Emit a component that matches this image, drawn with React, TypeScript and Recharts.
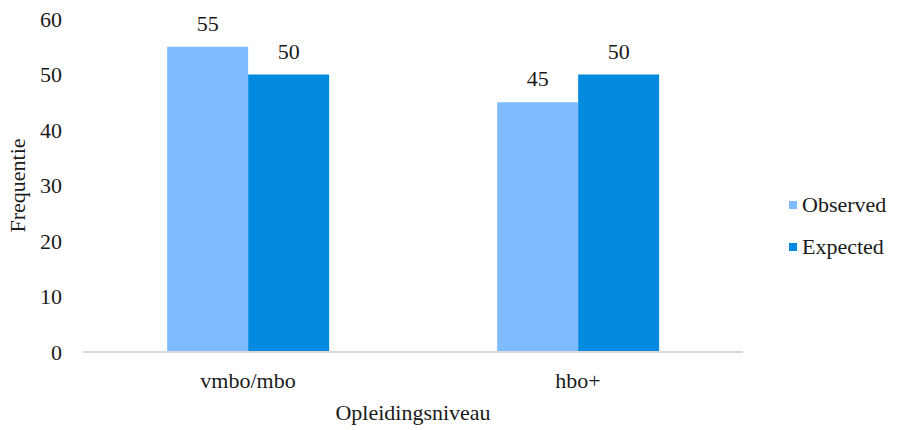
import { BarChart, Bar, XAxis, YAxis, Legend, LabelList } from 'recharts'

const levels = ['vmbo/mbo', 'hbo+']
const observed = [55, 45]
const expected = [50, 50]
const yTicks = [0, 10, 20, 30, 40, 50, 60]

const seriesNames = ['Observed', 'Expected']
const seriesColors = ['#80baff', '#028ae0']

const FONT = 'Liberation Serif, DejaVu Serif, serif'
const SIZE = 22
const INK = '#1a1a1a'

const data = levels.map((level, i) => ({
  level,
  Observed: observed[i],
  Expected: expected[i],
}))

function YTitle(props: any) {
  const vb = props.viewBox || {}
  const cx = 17
  const cy = vb.y + vb.height / 2
  return (
    <text
      x={cx}
      y={cy}
      transform={`rotate(-90, ${cx}, ${cy})`}
      textAnchor="middle"
      dominantBaseline="central"
      style={{ fontFamily: FONT, fontSize: SIZE }}
      fill={INK}
    >
      Frequentie
    </text>
  )
}

function LegendBox() {
  return (
    <div style={{ fontFamily: FONT, fontSize: SIZE, color: INK }}>
      {seriesNames.map((name, i) => (
        <div key={name} style={{ display: 'flex', alignItems: 'center', height: 42 }}>
          <span
            style={{
              display: 'inline-block',
              width: 8,
              height: 8,
              background: seriesColors[i],
              marginRight: 5,
            }}
          />
          {name}
        </div>
      ))}
    </div>
  )
}

const textStyle = { fontFamily: FONT, fontSize: SIZE }

export default function App() {
  return (
    <div style={{ position: 'absolute', left: 0, top: 0, width: 900, height: 430, background: '#fff', fontFamily: FONT }}>
      <BarChart
        width={900}
        height={430}
        data={data}
        margin={{ top: 19, right: 157, bottom: 8, left: 0 }}
        barGap={0}
        barCategoryGap="25.5%"
        style={textStyle}
      >
        <XAxis
          dataKey="level"
          height={70}
          axisLine={{ stroke: '#d9d9d9', strokeWidth: 2 }}
          tickLine={false}
          tickMargin={14}
          tick={{ style: textStyle, fontSize: SIZE, fill: INK }}
          label={{
            value: 'Opleidingsniveau',
            position: 'insideBottom',
            offset: 2,
            style: textStyle,
            fontSize: SIZE,
            fill: INK,
          }}
        />
        <YAxis
          width={83}
          domain={[0, 60]}
          ticks={yTicks}
          interval={0}
          axisLine={false}
          tickLine={false}
          tickMargin={15}
          tick={{ style: textStyle, fontSize: SIZE, fill: INK }}
          label={<YTitle />}
        />
        <Legend
          layout="vertical"
          align="center"
          verticalAlign="middle"
          wrapperStyle={{ left: 789, top: 184, width: 111 }}
          content={() => <LegendBox />}
        />
        {seriesNames.map((name, i) => (
          <Bar key={name} dataKey={name} fill={seriesColors[i]} isAnimationActive={false}>
            <LabelList
              dataKey={name}
              position="top"
              offset={16}
              style={textStyle}
              fontSize={SIZE}
              fill={INK}
            />
          </Bar>
        ))}
      </BarChart>
    </div>
  )
}
